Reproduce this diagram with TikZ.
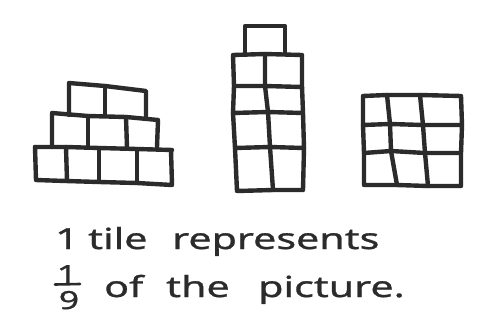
\documentclass[tikz,border=0pt]{standalone}
\usepackage{fontspec}
\newfontfamily\hand[FakeStretch=1.42,FakeBold=1]{Noto Sans}
\definecolor{ink}{HTML}{2B2B2B}
\tikzset{
  pen/.style={draw=ink, line width=4.4pt, line cap=round, line join=round},
  handtext/.style={text=ink, font=\hand\fontsize{29}{32}\selectfont, inner sep=0pt, anchor=base west},
  fracdigit/.style={text=ink, font=\hand\fontsize{25}{26}\selectfont, inner sep=0pt, anchor=base}
}
\begin{document}
\begin{tikzpicture}[x=1pt,y=-1pt]
\useasboundingbox[fill=white] (0,0) rectangle (479,329);
% ---- pyramid ----
\draw[pen] (69,115) -- (69,83) -- (105,86) -- (146,91) -- (146,116);
\draw[pen] (105,86) -- (105,116);
\draw[pen] (52,147) -- (52,113) -- (88,116) -- (126,117) -- (158,120) -- (157,147);
\draw[pen] (88,116) -- (88,147);
\draw[pen] (126,117) -- (127,148);
\draw[pen] (35,147) -- (66,147) -- (99,148) -- (137,149) -- (172,150);
\draw[pen] (35,147) -- (36,180) -- (66,181) -- (99,182) -- (137,183) -- (172,185) -- (171,150);
\draw[pen] (66,147) -- (67,181);
\draw[pen] (99,148) -- (99,182);
\draw[pen] (137,149) -- (137,183);
% ---- tower ----
\draw[pen] (245,54) -- (245,26) -- (285,26) -- (285,54);
\draw[pen] (233,55) -- (265,54) -- (302,55) -- (302,86) -- (303,113) -- (304,148) -- (303,190) -- (273,190) -- (237,191) -- (235,148) -- (233,113) -- (234,86) -- cycle;
\draw[pen] (234,86) -- (265,86) -- (302,87);
\draw[pen] (233,113) -- (268,112) -- (303,113);
\draw[pen] (235,148) -- (270,147) -- (304,148);
\draw[pen] (265,54) -- (265,86) -- (268,112) -- (270,147) -- (273,190);
% ---- square ----
\draw[pen] (363,96) -- (387,95) -- (420,95) -- (461,96) -- (462,125) -- (461,153) -- (461,186) -- (428,186) -- (397,185) -- (364,185) -- (364,153) -- (363,125) -- cycle;
\draw[pen] (363,125) -- (390,124) -- (423,125) -- (462,125);
\draw[pen] (364,153) -- (391,151) -- (425,153) -- (461,153);
\draw[pen] (387,95) -- (390,124) -- (391,151) -- (397,185);
\draw[pen] (420,95) -- (423,125) -- (425,153) -- (428,186);
% ---- text ----
\node[handtext] (one) at (55,249) {1};
\node[handtext] (tile) at (88,249) {tile};
\node[handtext] (repr) at (172,249) {represents};
\node[fracdigit] (fnum) at (67,283) {1};
\node[fracdigit] (fden) at (69,309) {9};
\coordinate (fbarl) at (55,284.5);
\coordinate (fbarr) at (80,284);
\draw[draw=ink, line width=2.6pt, line cap=round] (fbarl) -- (fbarr);
\node[handtext] (of) at (104,297) {of};
\node[handtext] (the) at (166,297) {the};
\node[handtext] (pic) at (258,297) {picture.};
\end{tikzpicture}
\end{document}
